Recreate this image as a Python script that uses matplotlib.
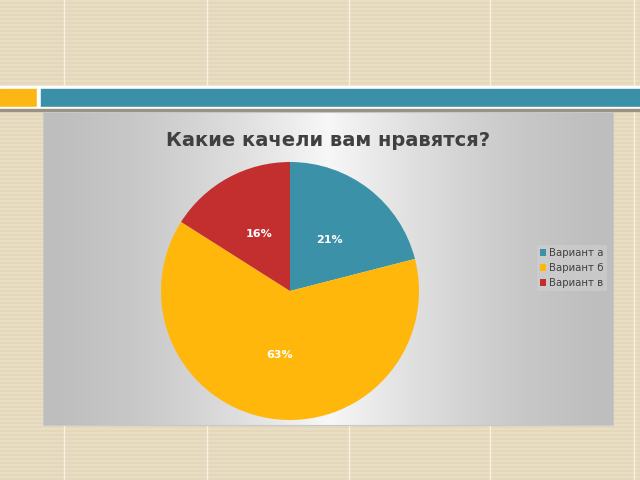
import numpy as np
import matplotlib
matplotlib.use("Agg")
import matplotlib.pyplot as plt
from matplotlib.patches import Rectangle

# Survey data
title = "Какие качели вам нравятся?"
categories = ["Вариант а", "Вариант б", "Вариант в"]
shares = [21, 63, 16]
colors = ["#3A91A8", "#FFB70B", "#C32F2F"]

W, H = 640, 480
fig = plt.figure(figsize=(W / 100, H / 100), dpi=100)

# Slide background: beige with faint horizontal stripes and thin vertical rules
bg = fig.add_axes([0, 0, 1, 1])
bg.set_xlim(0, W)
bg.set_ylim(H, 0)
bg.axis("off")
light = np.array([0.914, 0.867, 0.765])
dark = np.array([0.894, 0.845, 0.738])
rows = np.arange(H)
stripe = np.where((rows % 4) < 2, 0, 1)[:, None, None]
tex = np.where(stripe == 0, light, dark) * np.ones((H, W, 3))
bg.imshow(tex, extent=(0, W, H, 0), aspect="auto", zorder=0, interpolation="bilinear")
for x in [64, 207, 349, 490, 634]:
    bg.plot([x, x], [0, H], color="#f8f2e2", lw=1.0, zorder=1)

# Header band
bg.add_patch(Rectangle((0, 86), W, 3, color="white", zorder=2))
bg.add_patch(Rectangle((0, 89), 37, 18, color="#FDB714", zorder=3))
bg.add_patch(Rectangle((37, 89), 4, 18, color="white", zorder=3))
bg.add_patch(Rectangle((41, 89), W - 41, 18, color="#3A90A6", zorder=3))
bg.add_patch(Rectangle((0, 107), W, 1.5, color="white", zorder=3))
bg.add_patch(Rectangle((0, 108.5), W, 2.5, color="#9a9183", zorder=3))

# Chart area with a horizontal grey-to-white gradient
cx0, cy0, cx1, cy1 = 43, 112, 613, 425
xs = np.linspace(0, 1, 400)
peak = 0.5
g = 1 - np.abs(xs - peak) / max(peak, 1 - peak)
g = np.clip(g, 0, 1) ** 1.5
edge, centre = 0.745, 0.97
vals = edge + (centre - edge) * g
grad = np.repeat(vals[None, :, None], 3, axis=2)
bg.imshow(grad, extent=(cx0, cx1, cy1, cy0), aspect="auto", zorder=4)
bg.add_patch(Rectangle((cx0, cy0), cx1 - cx0, cy1 - cy0, fill=False,
                       edgecolor="#c8c8c8", lw=0.8, zorder=5))

bg.text(328, 140, title, ha="center", va="center", fontsize=14,
        fontweight="bold", color="#404040", zorder=6)

# Pie
pcx, pcy, r = 290, 291, 129
ax = fig.add_axes([(pcx - r) / W, (H - pcy - r) / H, 2 * r / W, 2 * r / H])
wedges, _, autotexts = ax.pie(
    shares, colors=colors, startangle=90, counterclock=False,
    autopct=lambda p: f"{p:.0f}%", pctdistance=0.5, radius=1,
    textprops=dict(color="white", fontsize=8, fontweight="bold"))
ax.set_xlim(-1, 1)
ax.set_ylim(-1, 1)
ax.set_aspect("equal")
ax.axis("off")

leg = fig.legend(wedges, categories, loc="center left",
                 bbox_to_anchor=(537 / W, 1 - 268 / H), frameon=True,
                 fontsize=7.3, handlelength=0.6, handleheight=0.6,
                 handletextpad=0.3, labelspacing=0.5, borderpad=0.3,
                 borderaxespad=0)
leg.get_frame().set_facecolor("#d2d2d2")
leg.get_frame().set_edgecolor("none")
leg.get_frame().set_alpha(0.5)
for t in leg.get_texts():
    t.set_color("#404040")

fig.savefig("out.png", dpi=100)
